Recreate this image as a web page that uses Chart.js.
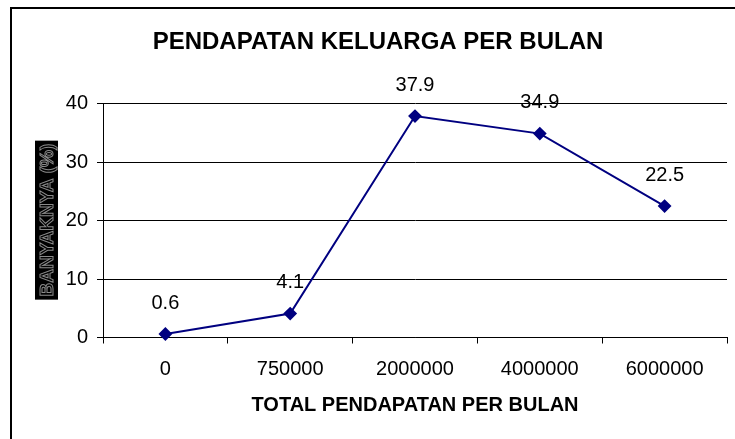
<!DOCTYPE html>
<html>
<head>
<meta charset="utf-8">
<script src="https://cdn.jsdelivr.net/npm/chart.js@4.4.1/dist/chart.umd.min.js"></script>
<style>
  html, body { margin: 0; padding: 0; background: #fff; }
  #wrap { width: 735px; height: 439px; position: relative; }
</style>
</head>
<body>
<div id="wrap"><canvas id="c" width="735" height="439"></canvas></div>
<script>
const chartTitle = 'PENDAPATAN KELUARGA PER BULAN';
const xTitle = 'TOTAL PENDAPATAN PER BULAN';
const yTitle = 'BANYAKNYA (%)';
const categories = ['0', '750000', '2000000', '4000000', '6000000'];
const values = [0.6, 4.1, 37.9, 34.9, 22.5];
const yTicks = [0, 10, 20, 30, 40];

const FONT = '"Liberation Sans", Arial, sans-serif';

const framePlugin = {
  id: 'frame',
  beforeDraw(chart) {
    const ctx = chart.ctx;
    ctx.save();
    ctx.strokeStyle = '#000';
    ctx.lineWidth = 2;
    ctx.strokeRect(11, 8, 900, 900);
    // y axis title box
    const a = chart.chartArea;
    const cy = (a.top + a.bottom) / 2 - 0.5;
    const bw = 23, bh = 159, cx = 46.5;
    ctx.fillStyle = '#000';
    ctx.fillRect(cx - bw / 2, cy - bh / 2, bw, bh);
    ctx.translate(cx, cy);
    ctx.rotate(-Math.PI / 2);
    ctx.font = 'bold 19px ' + FONT;
    ctx.textAlign = 'center';
    ctx.textBaseline = 'middle';
    ctx.strokeStyle = '#8a8a8a';
    ctx.lineWidth = 1;
    ctx.strokeText(yTitle, 0, 1);
    ctx.restore();
  }
};

const labelPlugin = {
  id: 'valueLabels',
  afterDatasetsDraw(chart) {
    const ctx = chart.ctx;
    const meta = chart.getDatasetMeta(0);
    ctx.save();
    ctx.font = '20px ' + FONT;
    ctx.fillStyle = '#000';
    ctx.textAlign = 'center';
    ctx.textBaseline = 'middle';
    meta.data.forEach((pt, i) => {
      ctx.fillText(String(values[i]), pt.x, pt.y - 31);
    });
    ctx.restore();
  }
};

new Chart(document.getElementById('c'), {
  type: 'line',
  data: {
    labels: categories,
    datasets: [{
      data: values,
      borderColor: '#000080',
      backgroundColor: '#000080',
      borderWidth: 2,
      pointStyle: 'rectRot',
      pointRadius: 5.5,
      pointHoverRadius: 5.5,
      pointBackgroundColor: '#000080',
      pointBorderColor: '#000080',
      tension: 0,
      clip: false
    }]
  },
  options: {
    responsive: false,
    animation: false,
    events: [],
    layout: { padding: { left: 29, right: 8, top: 0, bottom: 0 } },
    plugins: {
      legend: { display: false },
      tooltip: { enabled: false },
      title: {
        display: true,
        text: chartTitle,
        color: '#000',
        font: { family: FONT, size: 24, weight: 'bold' },
        padding: { top: 28, bottom: 47 }
      }
    },
    scales: {
      x: {
        type: 'category',
        offset: true,
        afterFit(s) { s.height = 101.5; },
        grid: {
          offset: true,
          drawOnChartArea: false,
          drawTicks: true,
          tickLength: 6,
          color: '#000',
          lineWidth: 1
        },
        border: { display: true, color: '#000', width: 1 },
        ticks: {
          color: '#000',
          font: { family: FONT, size: 20 },
          padding: 14,
          maxRotation: 0,
          autoSkip: false
        },
        title: {
          display: true,
          text: xTitle,
          color: '#000',
          font: { family: FONT, size: 20, weight: 'bold' },
          padding: { top: 0, bottom: 22 }
        }
      },
      y: {
        min: 0,
        max: 40,
        afterFit(s) { s.width = 74; },
        afterBuildTicks(s) { s.ticks = yTicks.map(v => ({ value: v })); },
        grid: {
          drawTicks: true,
          tickLength: 6,
          color: '#000',
          lineWidth: 1
        },
        border: { display: true, color: '#000', width: 1 },
        ticks: {
          color: '#000',
          font: { family: FONT, size: 20 },
          padding: 9
        },
        title: { display: false }
      }
    }
  },
  plugins: [framePlugin, labelPlugin]
});
</script>
</body>
</html>
